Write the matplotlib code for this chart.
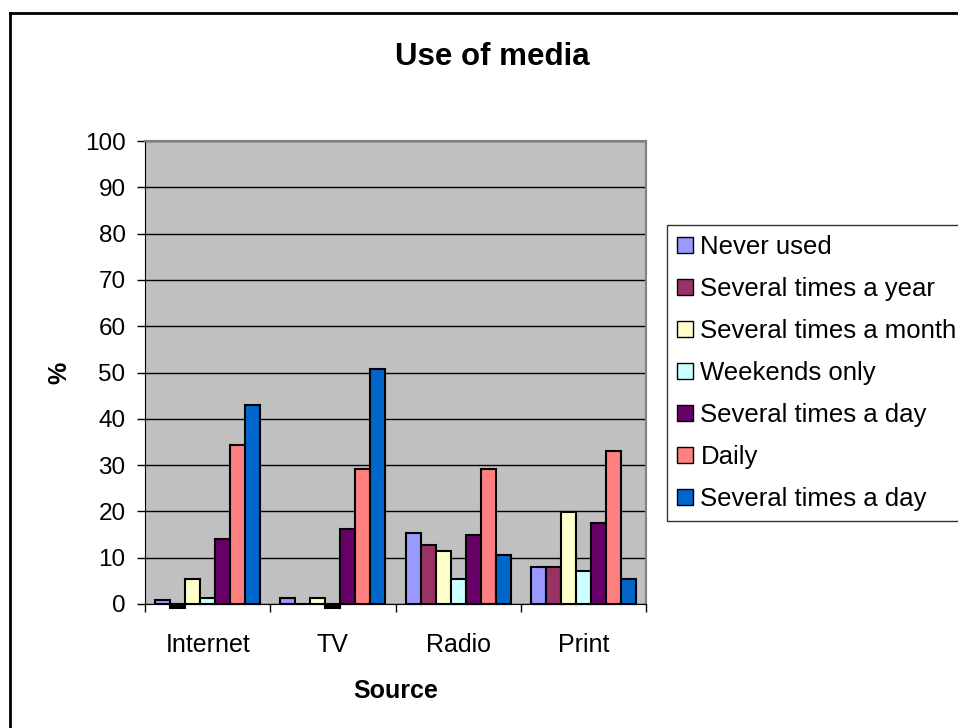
import matplotlib
matplotlib.use("Agg")
import matplotlib.pyplot as plt
import numpy as np
from matplotlib.patches import Patch
from matplotlib.lines import Line2D

plt.rcParams['font.family'] = ['Liberation Sans', 'DejaVu Sans']

categories = ["Internet", "TV", "Radio", "Print"]
series_names = ["Never used", "Several times a year", "Several times a month",
                "Weekends only", "Several times a day", "Daily", "Several times a day"]
never_used = [0.8, 1.2, 15.3, 7.9]
several_year = [-0.9, 0.0, 12.7, 7.9]
several_month = [5.4, 1.2, 11.4, 19.9]
weekends_only = [1.2, -0.9, 5.3, 7.1]
several_day = [14.0, 16.1, 14.9, 17.5]
daily = [34.3, 29.1, 29.1, 33.0]
several_day2 = [43.0, 50.7, 10.6, 5.4]
yticks = [0, 10, 20, 30, 40, 50, 60, 70, 80, 90, 100]

series = [never_used, several_year, several_month, weekends_only,
          several_day, daily, several_day2]
colors = ["#9999FF", "#993366", "#FFFFCC", "#CCFFFF", "#660066", "#FF8080", "#0066CC"]

W, H = 958, 728
fig = plt.figure(figsize=(W / 100, H / 100), dpi=100)

# outer chart border (left and top visible)
fig.add_artist(Line2D([10 / W, 10 / W], [0, 1 - 13 / H], color="black", lw=2, transform=fig.transFigure))
fig.add_artist(Line2D([10 / W, 1.0], [1 - 13 / H, 1 - 13 / H], color="black", lw=2, transform=fig.transFigure))

left, right, top, bottom = 145, 646, 141, 604
ax = fig.add_axes([left / W, 1 - bottom / H, (right - left) / W, (bottom - top) / H])
ax.set_facecolor("#C0C0C0")

n = len(series)
x = np.arange(len(categories))
total = 0.84
bw = total / n
for i, (vals, c) in enumerate(zip(series, colors)):
    offs = -total / 2 + bw * (i + 0.5)
    fc = ["black" if v < 0 else c for v in vals]
    bars = ax.bar(x + offs, vals, width=bw, color=fc, edgecolor="black", linewidth=1.5, zorder=3)
    for b in bars:
        b.set_clip_on(False)

FS = 18
ax.set_xlim(-0.5, len(categories) - 0.5)
ax.set_ylim(0, 100)
ax.set_yticks(yticks)
ax.set_yticklabels([str(t) for t in yticks], fontsize=17.5)
ax.yaxis.grid(True, color="black", linewidth=1, zorder=1)
ax.set_axisbelow(True)

ax.set_xticks(x)
ax.set_xticklabels(categories, fontsize=FS)
ax.tick_params(axis="x", length=0, pad=21)
ax.set_xticks(np.arange(-0.5, len(categories)), minor=True)
ax.tick_params(axis="x", which="minor", length=6, direction="out", width=1)
ax.tick_params(axis="y", length=6, direction="out", width=1, pad=8)

for s in ["top", "right"]:
    ax.spines[s].set_color("#808080")
    ax.spines[s].set_linewidth(1.5)
ax.spines["left"].set_color("black")
ax.spines["bottom"].set_color("black")

ax.set_ylabel("%", fontsize=FS, fontweight="bold", labelpad=10)
ax.set_xlabel("Source", fontsize=FS, fontweight="bold", labelpad=16)

fig.text(492 / W, 1 - 57 / H, "Use of media", ha="center", va="center",
         fontsize=22.5, fontweight="bold")

handles = [Patch(facecolor=c, edgecolor="black", linewidth=1) for c in colors]
leg = fig.legend(handles, series_names, loc="upper left",
                 bbox_to_anchor=(667 / W, 1 - 225 / H), fontsize=18.5,
                 frameon=True, fancybox=False, edgecolor="black",
                 handlelength=0.6, handleheight=0.6, handletextpad=0.3,
                 labelspacing=0.7, borderpad=0.4, borderaxespad=0)
leg.get_frame().set_linewidth(1)

fig.savefig("out.png", dpi=100)
